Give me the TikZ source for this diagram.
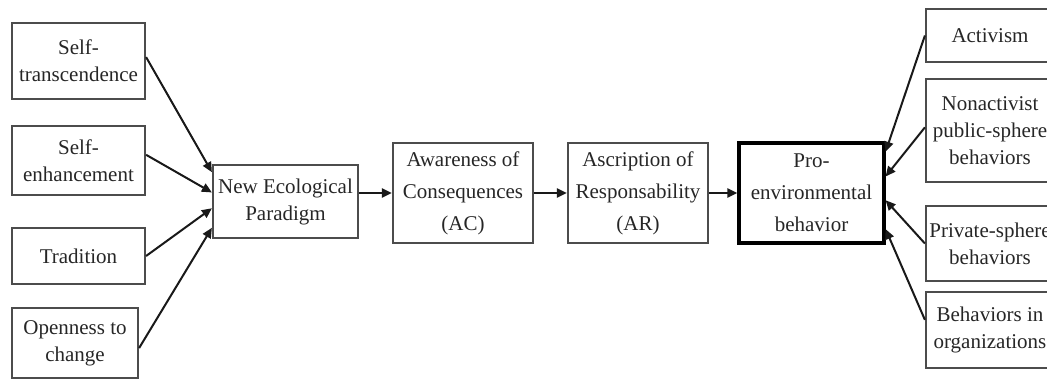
\documentclass[tikz,border=0pt]{standalone}
\usepackage{fontspec}
\setmainfont{Liberation Serif}
\usetikzlibrary{arrows.meta,calc}
\begin{document}
\begin{tikzpicture}[x=1pt,y=-1pt,
 box/.style={draw=black!70, line width=2.2pt, align=center, inner sep=0pt, text=black!85, font=\fontsize{21}{27}\selectfont},
 midbox/.style={box, font=\fontsize{21}{32}\selectfont},
 arr/.style={line width=2pt, draw=black!90, -{Triangle[length=10pt,width=9pt]}}]
\useasboundingbox (0,0) rectangle (1047,379);
\clip (0,0) rectangle (1047,379);
% left column
\node[box, minimum width=133pt, minimum height=76pt] (st) at (78.5,61) {Self-\\transcendence};
\node[box, minimum width=133pt, minimum height=69pt] (se) at (78.5,160.5) {Self-\\enhancement};
\node[box, minimum width=133pt, minimum height=56pt] (tr) at (78.5,256) {Tradition};
\node[box, minimum width=126pt, minimum height=70pt] (op) at (75,343) {Openness to\\change};
% chain
\node[box, minimum width=145pt, minimum height=73pt] (nep) at (285.5,201.5) {New Ecological\\Paradigm};
\node[midbox, minimum width=140pt, minimum height=100pt] (ac) at (463,193) {Awareness of\\Consequences\\(AC)};
\node[midbox, minimum width=140pt, minimum height=100pt] (ar) at (638,193) {Ascription of\\Responsability\\(AR)};
\node[midbox, draw=black, line width=3.2pt, minimum width=145pt, minimum height=100pt] (pro) at (811.5,193) {Pro-\\environmental\\behavior};
% right column
\node[box, minimum width=128pt, minimum height=53pt] (act) at (990,35.5) {Activism};
\node[box, minimum width=128pt, minimum height=103pt] (na) at (990,130.5) {Nonactivist\\public-sphere\\behaviors};
\node[box, minimum width=128pt, minimum height=75pt] (pr) at (990,243.5) {Private-sphere\\behaviors};
\node[box, minimum width=128pt, minimum height=76pt] (bo) at (990,330) {Behaviors in\\organizations};
% arrows left
\draw[arr] ($(st.north east)!0.45!(st.south east)$) -- ($(nep.north west)!0.11!(nep.south west)$);
\draw[arr] ($(se.north east)!0.42!(se.south east)$) -- ($(nep.north west)!0.38!(nep.south west)$);
\draw[arr] (tr.east) -- ($(nep.north west)!0.59!(nep.south west)$);
\draw[arr] ($(op.north east)!0.57!(op.south east)$) -- ($(nep.north west)!0.85!(nep.south west)$);
% chain arrows
\draw[arr] (nep.east |- ac.west) -- (ac.west);
\draw[arr] (ac.east) -- (ar.west);
\draw[arr] (ar.east) -- (pro.west);
% arrows right
\draw[arr] (act.west) -- ($(pro.north east)!0.1!(pro.south east)$);
\draw[arr] ($(na.north west)!0.47!(na.south west)$) -- ($(pro.north east)!0.34!(pro.south east)$);
\draw[arr] (pr.west) -- ($(pro.north east)!0.57!(pro.south east)$);
\draw[arr] ($(bo.north west)!0.37!(bo.south west)$) -- ($(pro.north east)!0.85!(pro.south east)$);
\end{tikzpicture}
\end{document}
